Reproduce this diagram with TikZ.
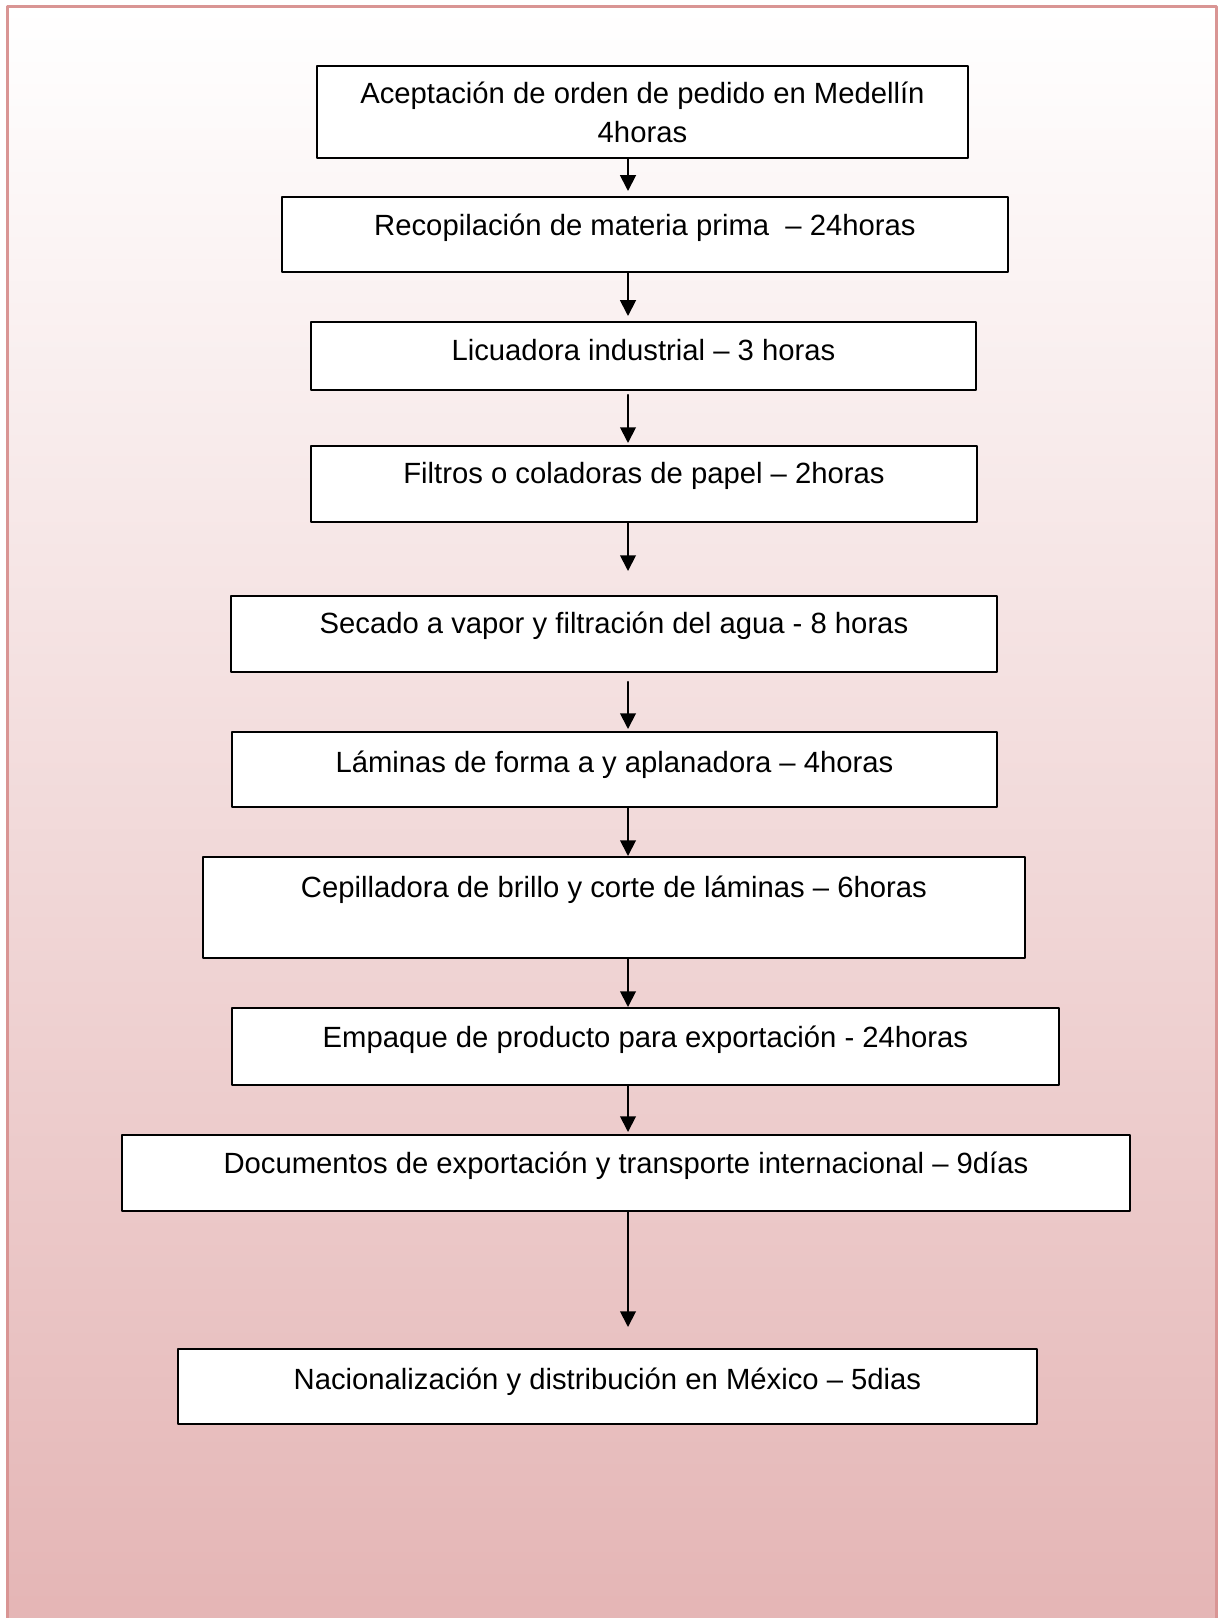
\documentclass[tikz,border=0pt]{standalone}
\usepackage{fontspec}
\setmainfont{Liberation Sans}
\usetikzlibrary{arrows.meta}

\definecolor{marco}{HTML}{D99594}
\definecolor{fondo}{HTML}{E4B4B4}

\begin{document}
\begin{tikzpicture}[line cap=round,line join=round,>={Triangle[length=6.3pt,width=6.3pt]},x=0.4pt,y=-0.4pt,
  stepbox/.style={draw=black,fill=white,line width=0.75pt,inner sep=0pt,anchor=north west,
    font=\fontsize{11.7pt}{15.6pt}\selectfont},
  flecha/.style={->,line width=0.75pt}]
\useasboundingbox (0,0) rectangle (1218,1618);
\clip (0,0) rectangle (1218,1618);
% fondo con degradado
\shade[top color=white,bottom color=fondo,draw=marco,line width=1.2pt] (7,7) rectangle (1216,1650);
% pasos del proceso
\node[stepbox,minimum width=260.4pt,text height=30.8pt,text depth=6pt,align=center] (acep) at (316,65) {Aceptación de orden de pedido en Medellín\\4horas};
\node[stepbox,minimum width=290.4pt,text height=15.6pt,text depth=14.4pt] (recop) at (281,196) {Recopilación de materia prima~ – 24horas};
\node[stepbox,minimum width=266pt,text height=15.6pt,text depth=11.6pt] (licu) at (310,321) {Licuadora industrial – 3 horas};
\node[stepbox,minimum width=266.4pt,text height=15.2pt,text depth=15.2pt] (filt) at (310,445) {Filtros o coladoras de papel – 2horas};
\node[stepbox,minimum width=306.4pt,text height=15.2pt,text depth=15.2pt] (seca) at (230,595) {Secado a vapor y filtración del agua - 8 horas};
\node[stepbox,minimum width=306pt,text height=16.4pt,text depth=13.6pt] (lami) at (231,731) {Láminas de forma a y aplanadora – 4horas};
\node[stepbox,minimum width=328.8pt,text height=16.4pt,text depth=24pt] (cepi) at (202,856) {Cepilladora de brillo y corte de láminas – 6horas};
\node[stepbox,minimum width=330.8pt,text height=16pt,text depth=14.8pt] (empa) at (231,1007) {Empaque de producto para exportación - 24horas};
\node[stepbox,minimum width=403.2pt,text height=15.6pt,text depth=14.8pt] (docu) at (121,1134) {Documentos de exportación y transporte internacional – 9días};
\node[stepbox,minimum width=343.6pt,text height=16.4pt,text depth=13.6pt] (naci) at (177,1348) {Nacionalización y distribución en México – 5dias};
% flechas
\coordinate (eje) at (628,0);
\foreach \a/\b/\s/\e in {acep/recop/0pt/2pt,recop/licu/0pt/2pt,licu/filt/1.6pt/0.8pt,filt/seca/0pt/9.6pt,
  seca/lami/3.6pt/0.8pt,lami/cepi/0pt/0pt,cepi/empa/0pt/0pt,empa/docu/0pt/0.8pt,docu/naci/0pt/8.4pt}
\draw[flecha,shorten <=\s,shorten >=\e] (\a.south -| eje) -- (\b.north -| eje);
\end{tikzpicture}
\end{document}
